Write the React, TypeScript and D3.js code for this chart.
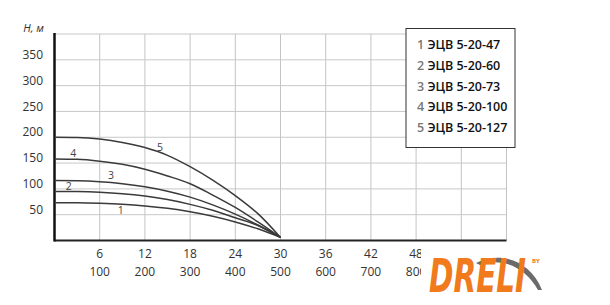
import React, { useLayoutEffect, useRef, useState } from "react";
import * as d3 from "d3";

const flowTicks = [6, 12, 18, 24, 30, 36, 42, 48];
const flowTicksL = [100, 200, 300, 400, 500, 600, 700, 800];
const headTicks = [50, 100, 150, 200, 250, 300, 350];
const xs = [0, 3, 6, 9, 12, 15, 18, 21, 24, 27, 30];
const s1 = [73, 72.9, 72, 70.2, 67, 62.3, 55.6, 47, 36, 22.6, 6];
const s2 = [95, 94.7, 93.4, 90.6, 86, 79.3, 70, 58.5, 44, 29, 6];
const s3 = [116, 115.6, 113.8, 110, 104, 95.4, 84, 69, 51, 30, 6];
const s4 = [158, 157.3, 153.7, 147.5, 138, 125, 110, 88, 64, 36, 6];
const s5 = [200, 199.5, 196.5, 190, 180, 165, 143, 117, 87, 52, 6];
const series = [s1, s2, s3, s4, s5];
const curveLabels = [
  { t: "1", q: 8.8, h: 57 },
  { t: "2", q: 1.9, h: 104 },
  { t: "3", q: 7.5, h: 124 },
  { t: "4", q: 2.5, h: 167 },
  { t: "5", q: 14, h: 179 },
];
const legendNums = ["1", "2", "3", "4", "5"];
const legendNames = ["ЭЦВ 5-20-47", "ЭЦВ 5-20-60", "ЭЦВ 5-20-73", "ЭЦВ 5-20-100", "ЭЦВ 5-20-127"];

export default function App() {
  const logoRef = useRef<SVGTextElement | null>(null);
  const [sx, setSx] = useState(0.63);
  useLayoutEffect(() => {
    if (logoRef.current) {
      const w = logoRef.current.getComputedTextLength();
      if (w > 0) setSx(97 / w);
    }
  }, []);
  const x = d3.scaleLinear().domain([0, 60]).range([54.5, 506.5]);
  const y = d3.scaleLinear().domain([0, 400]).range([240.5, 34]);
  const line = d3
    .line<number>()
    .x((_, i) => x(xs[i]))
    .y((d) => y(d))
    .curve(d3.curveMonotoneX);
  const vgrid = d3.range(6, 61, 6);
  const hgrid = d3.range(50, 401, 50);
  const font = "'Open Sans', 'DejaVu Sans', sans-serif";
  return (
    <svg
      width={610}
      height={305}
      style={{ position: "absolute", left: 0, top: 0, background: "#fff" }}
      fontFamily={font}
    >
      <rect x={0} y={0} width={610} height={305} fill="#fff" />
      {vgrid.map((v) => (
        <line key={"v" + v} x1={x(v)} x2={x(v)} y1={y(400)} y2={y(0)} stroke="#c4c4c4" strokeWidth={1} />
      ))}
      {hgrid.map((v) => (
        <line key={"h" + v} x1={x(0)} x2={x(60)} y1={y(v)} y2={y(v)} stroke="#c8c8c8" strokeWidth={1} />
      ))}
      <line x1={x(0)} x2={x(60)} y1={y(0)} y2={y(0)} stroke="#222" strokeWidth={2} />
      <line x1={x(0)} x2={x(0)} y1={y(400) - 1} y2={y(0) + 1} stroke="#111" strokeWidth={2.5} />
      {series.map((s, i) => (
        <path key={i} d={line(s) || ""} fill="none" stroke="#3a3a3a" strokeWidth={1.5} />
      ))}
      {curveLabels.map((c) => (
        <text key={c.t} x={x(c.q)} y={y(c.h)} fontSize={10.5} fill="#444" textAnchor="middle" dominantBaseline="middle">
          {c.t}
        </text>
      ))}
      {headTicks.map((t) => (
        <text key={t} x={43} y={y(t) - 4} fontSize={12} fill="#333" textAnchor="end" dominantBaseline="middle">
          {t}
        </text>
      ))}
      <text x={44} y={29} fontSize={11} fill="#333" textAnchor="end" dominantBaseline="middle" fontStyle="italic">
        Н, м
      </text>
      {flowTicks.map((t) => (
        <text key={t} x={x(t)} y={254.5} fontSize={12} fill="#333" textAnchor="middle" dominantBaseline="middle">
          {t}
        </text>
      ))}
      {flowTicksL.map((t, i) => (
        <text key={t} x={x(flowTicks[i])} y={272.5} fontSize={12} fill="#333" textAnchor="middle" dominantBaseline="middle">
          {t}
        </text>
      ))}
      <rect x={406} y={28.5} width={109} height={119} fill="#fff" stroke="#333" strokeWidth={1} />
      {legendNames.map((n, i) => (
        <text key={n} x={417} y={46 + i * 20.8} fontSize={12.5} dominantBaseline="middle" fontWeight={600}>
          <tspan fill="#777">{legendNums[i]}</tspan>
          <tspan fill="#111"> {n}</tspan>
        </text>
      ))}
      <g>
        <rect x={421} y={247} width={125} height={52} fill="#fff" />
        <path d="M476,263 C500,251 530,260 542,290 L538,290 C525,266 500,257 480,265 Z" fill="#6b6b6b" />
        <g transform={`translate(429,292) scale(${sx},1)`}>
          <text ref={logoRef} x={0} y={0} fontSize={47} fontWeight={900} fontStyle="italic" fill="#f07a1c"
            fontFamily="'DejaVu Sans', sans-serif">
            DRELI
          </text>
        </g>
        <text x={532} y={263} fontSize={6} fontWeight={700} fill="#f07a1c">BY</text>
      </g>
    </svg>
  );
}
